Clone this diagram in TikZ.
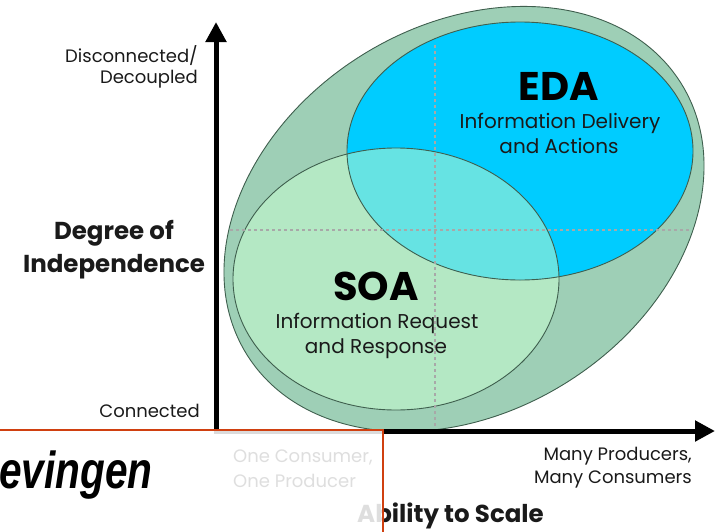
\documentclass[tikz,border=0pt]{standalone}
\usepackage{fontspec}
\setmainfont{Poppins}
\newfontfamily\arialfont{Liberation Sans}
\usetikzlibrary{arrows.meta}
\definecolor{outerg}{HTML}{9ECFB6}
\definecolor{soag}{HTML}{B4E8C4}
\definecolor{edab}{HTML}{00CCFF}
\definecolor{overlapc}{HTML}{66E3E3}
\definecolor{edgec}{HTML}{3F5F4E}
\definecolor{txt}{HTML}{1A1A1A}
\definecolor{boxred}{HTML}{D04010}
\definecolor{dashc}{HTML}{A8A8A8}
\begin{document}
\begin{tikzpicture}[x=1pt,y=-1pt,
  axisline/.style={line width=5pt, black, -{Triangle[length=20pt,width=20pt]}},
  edgeline/.style={draw=edgec, line width=0.9pt},
  guide/.style={dashc, line width=1.4pt, dash pattern=on 3pt off 3pt},
  small/.style={text=txt, inner sep=0pt, font=\fontsize{18}{18}\selectfont},
  medium/.style={text=txt, inner sep=0pt, font=\fontsize{20}{20}\selectfont},
  heading/.style={text=txt, inner sep=0pt, font=\bfseries\fontsize{24.5}{24.5}\selectfont},
  big/.style={text=black, inner sep=0pt, font=\bfseries\fontsize{40}{40}\selectfont}]
\useasboundingbox (0,0) rectangle (718,531);
% outer region
\draw[edgeline, fill=outerg, rotate around={32:(464,219)}] (464,219) ellipse [x radius=256pt, y radius=193pt];
% SOA and EDA
\fill[soag] (396,279) ellipse [x radius=163pt, y radius=131pt];
\fill[edab] (520,151) ellipse [x radius=173pt, y radius=129pt];
\begin{scope}
  \clip (396,279) ellipse [x radius=163pt, y radius=131pt];
  \fill[overlapc] (520,151) ellipse [x radius=173pt, y radius=129pt];
\end{scope}
\draw[edgeline] (396,279) ellipse [x radius=163pt, y radius=131pt];
\draw[edgeline] (520,151) ellipse [x radius=173pt, y radius=129pt];
% guide lines
\draw[guide] (435,45) -- (435,430);
\draw[guide] (230,230) -- (690,230);
% axes
\coordinate (o) at (216,431);
\coordinate (ytip) at (216,22);
\coordinate (xtip) at (715,431);
\draw[axisline] (216,433.5) -- (ytip);
\draw[axisline] (213.5,431) -- (xtip);
% labels
\node[small, anchor=base east] (disc) at (198,62) {Disconnected/};
\node[small, anchor=base east] (deco) at (198,83) {Decoupled};
\node[heading, anchor=base] (deg) at (114,239) {Degree of};
\node[heading, anchor=base] (ind) at (114,272) {Independence};
\node[small, anchor=base east] (conn) at (200,417) {Connected};
\node[big, anchor=base] (eda) at (559,100) {EDA};
\node[medium, anchor=base] (eda1) at (560,128) {Information Delivery};
\node[medium, anchor=base] (eda2) at (559,153) {and Actions};
\node[big, anchor=base] (soa) at (376,300) {SOA};
\node[medium, anchor=base] (soa1) at (377,328) {Information Request};
\node[medium, anchor=base] (soa2) at (376,353) {and Response};
\node[small, anchor=base east] (many1) at (692,460) {Many Producers,};
\node[small, anchor=base east] (many2) at (692,483) {Many Consumers};
\node[small, anchor=base west] (one1) at (233,462) {One Consumer,};
\node[small, anchor=base west] (one2) at (233,487) {One Producer};
\node[heading, anchor=base west] (abil) at (357,522) {Ability to Scale};
% overlay box
\draw[boxred, line width=2.5pt, fill=white, fill opacity=0.86] (-5,430) rectangle (383,545);
\node[anchor=base west, inner sep=0pt, text=black, font=\arialfont\bfseries\itshape\fontsize{52}{52}\selectfont] (ev) at (-1,488) {\scalebox{0.78}[1]{evingen}};
\end{tikzpicture}
\end{document}
